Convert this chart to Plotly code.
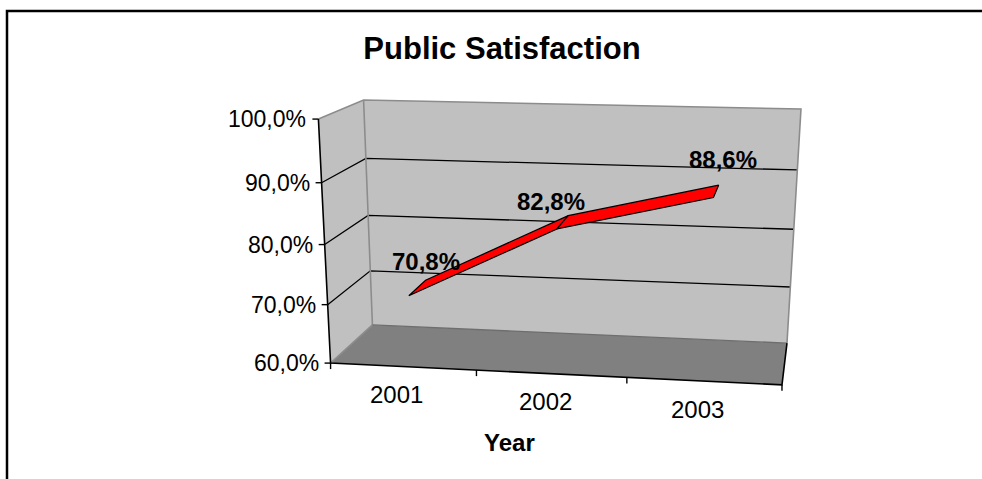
import numpy as np
import plotly.graph_objects as go

# ---------------- data ----------------
years = ["2001", "2002", "2003"]
satisfaction = [70.8, 82.8, 88.6]          # percent
y_ticks = [60, 70, 80, 90, 100]
y_tick_labels = ["60,0%", "70,0%", "80,0%", "90,0%", "100,0%"]
chart_title = "Public Satisfaction"
x_title = "Year"

# ---------------- 3D frame calibration ----------------
W, H = 982, 479
V_MIN, V_MAX = 60.0, 100.0
N = len(years)
FONT = "Liberation Sans, Arial, sans-serif"

# screen position of the 8 corners of the 3D box (u: category, v: value, w: depth)
box_3d = [(0, V_MAX, 0), (0, V_MIN, 0), (N, V_MIN, 0), (N, V_MAX, 0),
          (0, V_MAX, 1), (0, V_MIN, 1), (N, V_MIN, 1), (N, V_MAX, 1)]
box_px = [(318, 119), (331, 363), (782, 385), (797, 130),
          (364, 100), (372, 325), (787, 343), (801, 109)]

# style: label nudges (pixels) relative to the projected point
label_nudge = [(9, -26), (-12, -21), (7, -32)]


def _fit_camera():
    rows = []
    for (u, v, w), (x, y) in zip(box_3d, box_px):
        X, Y, Z = u / N, (v - V_MIN) / (V_MAX - V_MIN), w
        xn, yn = (x - 500) / 300.0, (y - 250) / 300.0
        rows.append([X, Y, Z, 1, 0, 0, 0, 0, -xn * X, -xn * Y, -xn * Z, -xn])
        rows.append([0, 0, 0, 0, X, Y, Z, 1, -yn * X, -yn * Y, -yn * Z, -yn])
    _, _, vt = np.linalg.svd(np.array(rows, float))
    return vt[-1].reshape(3, 4)


CAM = _fit_camera()


def proj(u, v, w):
    X, Y, Z = u / N, (v - V_MIN) / (V_MAX - V_MIN), w
    p = CAM @ np.array([X, Y, Z, 1.0])
    return p[0] / p[2] * 300 + 500, p[1] / p[2] * 300 + 250


def poly(pts):
    xs, ys = [], []
    for p in pts:
        x, y = proj(*p)
        xs.append(x)
        ys.append(y)
    xs.append(xs[0])
    ys.append(ys[0])
    return xs, ys


def segs(list_of_paths):
    xs, ys = [], []
    for path in list_of_paths:
        for p in path:
            x, y = proj(*p)
            xs.append(x)
            ys.append(y)
        xs.append(None)
        ys.append(None)
    return xs, ys


fig = go.Figure()


def add_fill(pts, color, line_color=None, lw=0):
    xs, ys = poly(pts)
    fig.add_trace(go.Scatter(x=xs, y=ys, mode="lines", fill="toself", fillcolor=color,
                             line=dict(color=line_color or color, width=lw),
                             hoverinfo="skip", showlegend=False))


def add_lines(paths, color, lw):
    xs, ys = segs(paths)
    fig.add_trace(go.Scatter(x=xs, y=ys, mode="lines", line=dict(color=color, width=lw),
                             hoverinfo="skip", showlegend=False))


# outer chart border (top and left visible)
fig.add_trace(go.Scatter(x=[W, 7, 7], y=[11, 11, H], mode="lines",
                         line=dict(color="#000000", width=2.5),
                         hoverinfo="skip", showlegend=False))

# walls and floor
add_fill([(0, V_MAX, 1), (N, V_MAX, 1), (N, V_MIN, 1), (0, V_MIN, 1)], "#C0C0C0")
add_fill([(0, V_MAX, 0), (0, V_MAX, 1), (0, V_MIN, 1), (0, V_MIN, 0)], "#C0C0C0")
add_fill([(0, V_MIN, 0), (0, V_MIN, 1), (N, V_MIN, 1), (N, V_MIN, 0)], "#808080")

# gridlines
grid_vals = [t for t in y_ticks if V_MIN < t < V_MAX]
add_lines([[(0, g, 0), (0, g, 1), (N, g, 1)] for g in grid_vals], "#000000", 1.3)

# wall edges (grey)
add_lines([[(0, V_MAX, 0), (0, V_MAX, 1), (N, V_MAX, 1), (N, V_MIN, 1)],
           [(0, V_MAX, 1), (0, V_MIN, 1)],
           [(0, V_MIN, 0), (0, V_MIN, 1)]], "#8C8C8C", 1.6)
add_lines([[(0, V_MIN, 1), (N, V_MIN, 1)]], "#6E6E6E", 1.4)

# axes (black)
add_lines([[(0, V_MAX, 0), (0, V_MIN, 0), (N, V_MIN, 0), (N, V_MIN, 1)]], "#000000", 1.6)

# tick marks
tx, ty = [], []
for t in y_ticks:
    x, y = proj(0, t, 0)
    tx += [x - 6, x, None]
    ty += [y, y, None]
for i in range(N + 1):
    x, y = proj(i, V_MIN, 0)
    tx += [x, x, None]
    ty += [y, y + 6, None]
fig.add_trace(go.Scatter(x=tx, y=ty, mode="lines", line=dict(color="#000000", width=1.4),
                         hoverinfo="skip", showlegend=False))

# ribbon (3D line)
W_FRONT, W_BACK = 0.2, 0.65
for i in range(N - 1):
    u0, u1 = i + 0.5, i + 1.5
    v0, v1 = satisfaction[i], satisfaction[i + 1]
    add_fill([(u0, v0, W_FRONT), (u1, v1, W_FRONT), (u1, v1, W_BACK), (u0, v0, W_BACK)],
             "#FF0000", "#000000", 1.2)

annotations = []
# data labels
for i, v in enumerate(satisfaction):
    x, y = proj(i + 0.5, v, 0.42)
    dx, dy = label_nudge[i]
    annotations.append(dict(x=x + dx, y=y + dy, xref="x", yref="y", showarrow=False,
                            text="<b>" + f"{v:.1f}".replace(".", ",") + "%</b>",
                            font=dict(family=FONT, size=24, color="#000000")))
# y tick labels
for t, lab in zip(y_ticks, y_tick_labels):
    x, y = proj(0, t, 0)
    annotations.append(dict(x=x - 10, y=y, xref="x", yref="y", showarrow=False,
                            xanchor="right", yanchor="middle", text=lab,
                            font=dict(family=FONT, size=23, color="#000000")))
# category labels
for i, lab in enumerate(years):
    x, y = proj(i + 0.5, V_MIN, 0)
    annotations.append(dict(x=x - 6, y=y + 28, xref="x", yref="y", showarrow=False,
                            text=lab, font=dict(family=FONT, size=24, color="#000000")))
# axis title
x0, y0 = proj(0, V_MIN, 0)
x1, _ = proj(N, V_MIN, 0)
annotations.append(dict(x=(x0 + x1) / 2 - 47, y=y0 + 79, xref="x", yref="y", showarrow=False,
                        text="<b>" + x_title + "</b>",
                        font=dict(family=FONT, size=24, color="#000000")))

fig.update_layout(
    width=W, height=H, autosize=False,
    margin=dict(l=0, r=0, t=0, b=0),
    paper_bgcolor="#FFFFFF", plot_bgcolor="#FFFFFF",
    showlegend=False,
    title=dict(text="<b>" + chart_title + "</b>", x=502 / W, xref="paper", xanchor="center",
               y=1 - 48 / H, yref="paper", yanchor="middle",
               font=dict(family=FONT, size=31, color="#000000")),
    xaxis=dict(range=[0, W], visible=False, fixedrange=True),
    yaxis=dict(range=[H, 0], visible=False, fixedrange=True),
    annotations=annotations,
)

fig.write_html("out.html")
